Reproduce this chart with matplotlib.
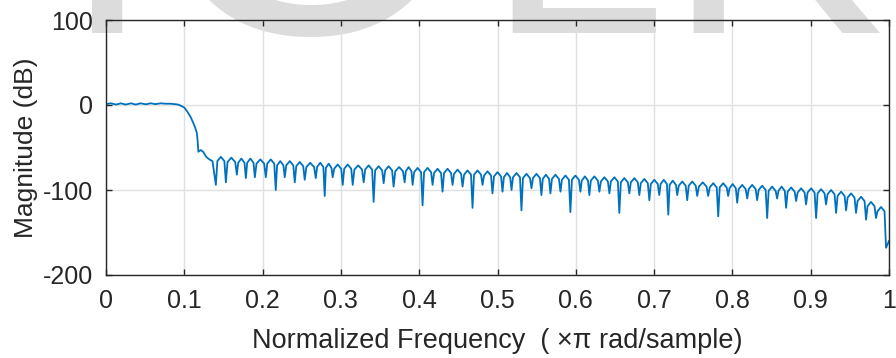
import numpy as np
import matplotlib
matplotlib.use("Agg")
import matplotlib.pyplot as plt

# passband + transition band (x pi rad/sample, dB)
edge_freq = [0.0, 0.006, 0.013, 0.019, 0.025, 0.032, 0.038, 0.044, 0.051, 0.057,
             0.063, 0.070, 0.076, 0.082, 0.088, 0.092, 0.096, 0.100, 0.104, 0.108,
             0.111, 0.114, 0.116, 0.117, 0.118, 0.121, 0.124, 0.128, 0.132, 0.136]
edge_db = [1.0, 2.0, 0.5, 2.0, 0.5, 2.0, 0.5, 2.0, 0.8, 2.0,
           1.0, 2.0, 1.5, 1.5, 1.0, 0.5, -1, -3, -8, -14,
           -20, -27, -33, -42, -55, -53, -55, -61, -64, -66]

# stopband nulls
null_freq = [0.1403, 0.1531, 0.1671, 0.1786, 0.1901, 0.2041, 0.2168, 0.2283, 0.2411, 0.2538,
             0.2679, 0.2793, 0.2895, 0.3023, 0.3151, 0.3291, 0.3418, 0.3546, 0.3673, 0.3814,
             0.3916, 0.4043, 0.4171, 0.4298, 0.4426, 0.4554, 0.4681, 0.4809, 0.4936, 0.5064,
             0.5179, 0.5306, 0.5434, 0.5561, 0.5676, 0.5804, 0.5931, 0.6059, 0.6173, 0.6301,
             0.6429, 0.6556, 0.6684, 0.6811, 0.6939, 0.7066, 0.7181, 0.7296, 0.7423, 0.7551,
             0.7691, 0.7819, 0.7946, 0.8061, 0.8189, 0.8316, 0.8444, 0.8571, 0.8686, 0.8814,
             0.8941, 0.9069, 0.9196, 0.9324, 0.9452, 0.9579, 0.9707, 0.9834, 0.9962]
null_db = [-94, -91, -82, -86, -85, -85, -100, -85, -91, -88,
           -86, -107, -85, -94, -94, -91, -114, -92, -96, -91,
           -94, -118, -94, -102, -94, -96, -121, -94, -104, -102,
           -100, -124, -98, -106, -104, -102, -126, -102, -106, -102,
           -104, -127, -104, -106, -112, -106, -129, -106, -112, -107,
           -107, -131, -107, -115, -110, -112, -133, -110, -121, -113,
           -117, -133, -117, -127, -124, -127, -135, -133, -168]

# top of each sidelobe (between consecutive nulls)
lobe_top_db = [-61, -62, -63, -63, -64, -64, -66, -66,
               -67, -68, -68, -69, -70, -70, -71, -71, -72, -72,
               -73, -73, -74, -74, -75, -75, -76, -77, -77, -78,
               -79, -80, -80, -81, -81, -82, -82, -83, -83, -84,
               -84, -85, -85, -86, -86, -87, -88, -88, -89, -90,
               -90, -91, -92, -92, -93, -94, -94, -95, -96, -96,
               -97, -98, -98, -99, -100, -102, -104, -108, -114, -120]

end_freq = 1.0
end_db = -160

xticks = [0, 0.1, 0.2, 0.3, 0.4, 0.5, 0.6, 0.7, 0.8, 0.9, 1]
xtick_labels = ["0", "0.1", "0.2", "0.3", "0.4", "0.5", "0.6", "0.7", "0.8", "0.9", "1"]
yticks = [-200, -100, 0, 100]

# build the curve: passband, then each lobe as null -> shoulder -> top -> shoulder -> null
f = list(edge_freq)
m = list(edge_db)
for i in range(len(null_freq) - 1):
    a, b = null_freq[i], null_freq[i + 1]
    w = b - a
    top = lobe_top_db[i]
    f += [a, a + 0.15 * w, a + 0.5 * w, b - 0.15 * w]
    m += [null_db[i], top - 5, top, top - 5]
f += [null_freq[-1], end_freq]
m += [null_db[-1], end_db]

plt.rcParams['font.family'] = ['Liberation Sans', 'DejaVu Sans']
plt.rcParams['axes.unicode_minus'] = False

fig = plt.figure(figsize=(8.96, 3.58), dpi=100)
ax = fig.add_axes([106 / 896, 1 - 275 / 358, 783 / 896, 255 / 358])
ax.set_facecolor('none')

ax.plot(f, m, color='#0072BD', lw=1.3)

ax.set_xlim(0, 1)
ax.set_ylim(-200, 100)
ax.set_xticks(xticks)
ax.set_xticklabels(xtick_labels)
ax.set_yticks(yticks)
ax.grid(True, color='#e0e0e0', lw=1.0)
ax.set_axisbelow(True)
ax.tick_params(direction='in', top=True, right=True, length=4, width=1,
               colors='#262626', labelsize=18)
ax.tick_params(axis='x', pad=10)
ax.tick_params(axis='y', pad=9.5)
for s in ax.spines.values():
    s.set_color('#262626')
    s.set_linewidth(1.0)

ax.set_xlabel("Normalized Frequency  ( \u00d7\u03c0 rad/sample)", fontsize=19.5,
              color='#262626', labelpad=11)
ax.set_ylabel("Magnitude (dB)", fontsize=19, color='#262626', labelpad=3)

# faint watermark letters along the top edge, behind the axes
for ch, xc, size in [("I", 107, 234), ("O", 310, 300), ("L", 576, 234), ("K", 775, 234)]:
    fig.text(xc / 896, 1 - 33 / 358, ch, fontsize=size, color='#dcdcdc',
             ha='center', va='baseline', family='Liberation Sans', zorder=-1)

fig.savefig("out.png", dpi=100)
